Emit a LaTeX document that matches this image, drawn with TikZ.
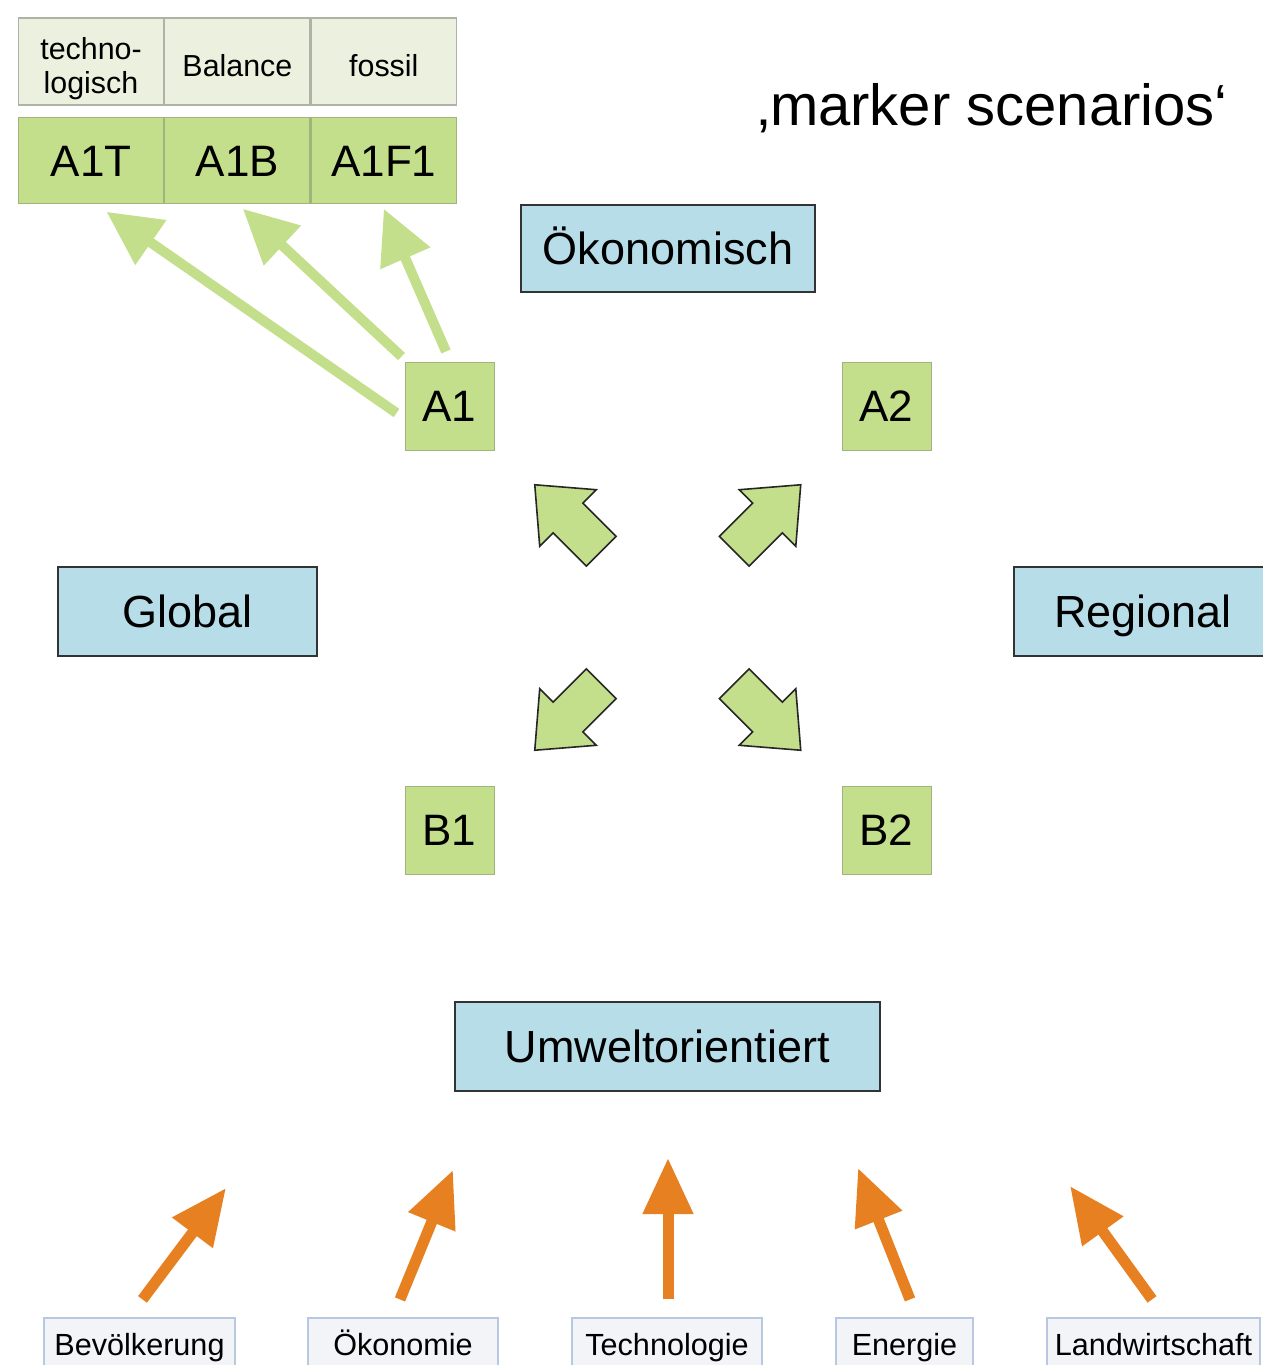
\documentclass[tikz,border=0pt]{standalone}
\usepackage{fontspec}
\setmainfont{Liberation Sans}
\usepackage{xcolor}
\definecolor{leaf}{RGB}{195, 223, 139}
\definecolor{leafline}{RGB}{160, 180, 125}
\definecolor{cream}{RGB}{235, 241, 222}
\definecolor{creamline}{RGB}{175, 178, 165}
\definecolor{sky}{RGB}{183, 221, 232}
\definecolor{ember}{RGB}{230, 128, 32}
\definecolor{mist}{RGB}{242, 244, 248}
\definecolor{mistline}{RGB}{185, 200, 225}
\usepackage{tikz}
\usetikzlibrary{
  arrows.meta, positioning
}

\newcommand{\headtext}[1]{\raisebox{-4pt}[\height][\depth]{\begin{tabular}{@{}c@{}}#1\end{tabular}}}

\tikzset{
  axisbox/.style={draw=black!80, line width=1pt, fill=sky, minimum height=44.5pt,
    text height=16.1pt, text depth=0pt, font=\fontsize{22.5}{27}\selectfont},
  scenbox/.style={draw=leafline, line width=0.5pt, fill=leaf, minimum width=44.5pt,
    minimum height=44pt, text height=15.8pt, text depth=0pt, font=\fontsize{22}{26}\selectfont},
  headcell/.style={draw=creamline, line width=0.6pt, fill=cream, minimum width=72.6pt,
    minimum height=43.5pt, inner sep=0pt, font=\fontsize{15.2}{17}\selectfont},
  subcell/.style={draw=leafline, line width=0.6pt, fill=leaf, minimum width=72.6pt,
    minimum height=43pt, text height=15.8pt, text depth=0pt, font=\fontsize{22}{26}\selectfont},
  inputbox/.style={draw=mistline, line width=0.6pt, fill=mist, minimum height=26pt,
    text height=11pt, text depth=0pt, font=\fontsize{15.3}{18}\selectfont},
  greenarrow/.style={draw=leaf, line width=5pt, -{Triangle[length=27pt, width=26pt]}},
  orangearrow/.style={draw=ember, line width=5.5pt, -{Triangle[length=28pt, width=24pt]}},
  bigarrow/.pic={
    \draw[fill=leaf, draw=black!85, line width=0.8pt]
      (47,0) -- (0,40) -- (0,21) -- (-47,21) -- (-47,-21) -- (0,-21) -- (0,-40) -- cycle;
  }
}

\begin{document}
\begin{tikzpicture}[x=0.5pt, y=0.5pt]
    \useasboundingbox (0,0) rectangle (1263,-1365);

    \node[headcell] (techno) at (91,-61.5) {\headtext{techno-\\logisch}};
    \node[headcell, right=0pt of techno] (balance) {\headtext{Balance}};
    \node[headcell, right=0pt of balance] (fossil) {\headtext{fossil}};
    \node[subcell, below=5.5pt of techno] (a1t) {A1T};
    \node[subcell, below=5.5pt of balance] (a1b) {A1B};
    \node[subcell, below=5.5pt of fossil] (a1f) {A1F1};

    \node[anchor=base, font=\fontsize{29}{34}\selectfont] (marker) at (992.5,-125) {‚marker scenarios‘};

    \node[axisbox, minimum width=147pt, minimum height=43.5pt] (oeko) at (668,-248.5) {Ökonomisch};
    \node[axisbox, minimum width=129.5pt] (global) at (187.5,-611.5) {Global};
    \node[axisbox, minimum width=129.5pt] (regional) at (1143,-611.5) {Regional};
    \node[axisbox, minimum width=212.5pt] (umwelt) at (667.5,-1046.5) {Umweltorientiert};

    \node[scenbox] (A1) at (449.5,-406) {A1};
    \node[scenbox] (A2) at (886.5,-406) {A2};
    \node[scenbox] (B1) at (449.5,-830) {B1};
    \node[scenbox] (B2) at (886.5,-830) {B2};

    \pic[rotate=135] at (568,-518) {bigarrow};
    \pic[rotate=45] at (767.5,-518) {bigarrow};
    \pic[rotate=-135] at (568,-717) {bigarrow};
    \pic[rotate=-45] at (767.5,-717) {bigarrow};

    \draw[greenarrow] ([shift={(-4pt,-3.5pt)}]A1.west) -- ([shift={(7.75pt,-4pt)}]a1t.south);
    \draw[greenarrow] ([shift={(-1.5pt,2.5pt)}]A1.north west) -- ([shift={(2.75pt,-2.5pt)}]a1b.south);
    \draw[greenarrow] ([shift={(-1.75pt,5pt)}]A1.north) -- ([shift={(0pt,-2.5pt)}]a1f.south);

    \node[inputbox, minimum width=95.5pt] (bev) at (139.5,-1344) {Bevölkerung};
    \node[inputbox, minimum width=95pt] (oekon) at (403,-1344) {Ökonomie};
    \node[inputbox, minimum width=95pt] (tech) at (667,-1344) {Technologie};
    \node[inputbox, minimum width=68.5pt] (energie) at (904.5,-1344) {Energie};
    \node[inputbox, minimum width=106.5pt] (land) at (1153.5,-1344) {Landwirtschaft};

    \coordinate (tipbev) at (226,-1188);
    \coordinate (tipoekon) at (453,-1170);
    \coordinate (tiptech) at (668,-1158);
    \coordinate (tipenergie) at (858,-1168);
    \coordinate (tipland) at (1070,-1186);

    \draw[orangearrow] ([shift={(1.5pt,9pt)}]bev.north) -- (tipbev);
    \draw[orangearrow] ([shift={(-1.5pt,9pt)}]oekon.north) -- (tipoekon);
    \draw[orangearrow] ([shift={(0.5pt,9pt)}]tech.north) -- (tiptech);
    \draw[orangearrow] ([shift={(2.75pt,9pt)}]energie.north) -- (tipenergie);
    \draw[orangearrow] ([shift={(-0.75pt,9pt)}]land.north) -- (tipland);
  \end{tikzpicture}
\end{document}
